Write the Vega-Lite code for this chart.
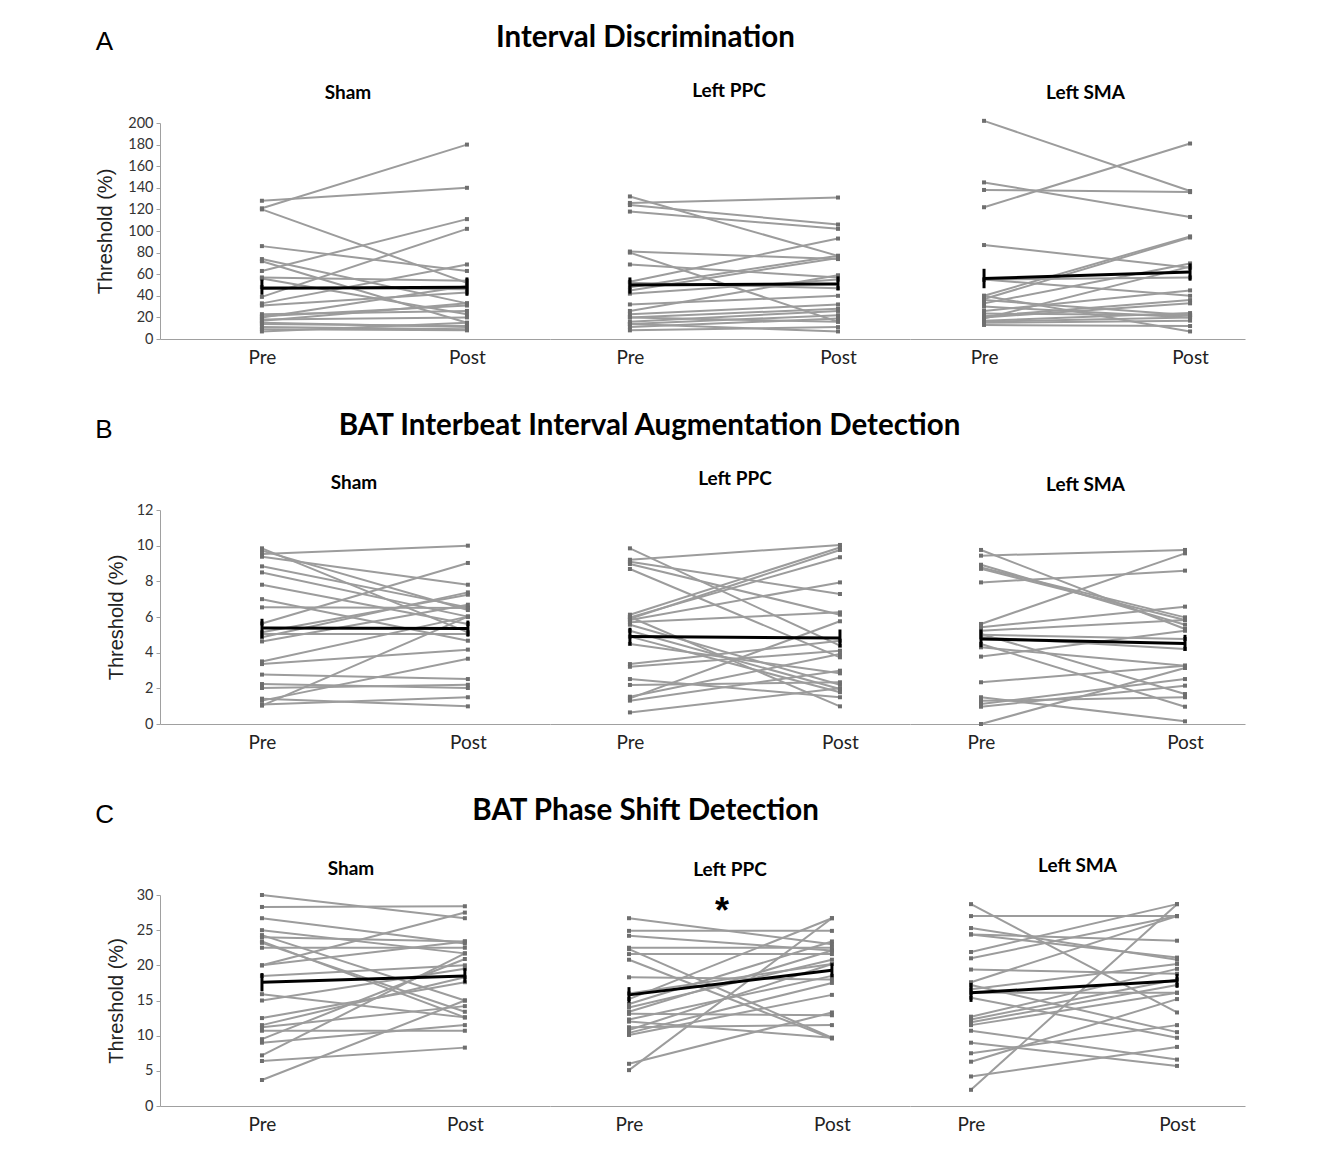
{
"$schema": "https://vega.github.io/schema/vega-lite/v6.json",
"background": "white",
"padding": {"left": 95, "top": 22, "right": 5, "bottom": 5},
"data": {"name": "d"},
"datasets": {"d": [
{"t":"A","c":"Sham","s":1,"Pre":128,"Post":140},{"t":"A","c":"Sham","s":2,"Pre":121,"Post":180},{"t":"A","c":"Sham","s":3,"Pre":120,"Post":52},{"t":"A","c":"Sham","s":4,"Pre":86,"Post":63},{"t":"A","c":"Sham","s":5,"Pre":74,"Post":33},{"t":"A","c":"Sham","s":6,"Pre":72,"Post":15},{"t":"A","c":"Sham","s":7,"Pre":63,"Post":111},{"t":"A","c":"Sham","s":8,"Pre":57,"Post":54},{"t":"A","c":"Sham","s":9,"Pre":56,"Post":23},{"t":"A","c":"Sham","s":10,"Pre":48,"Post":46},{"t":"A","c":"Sham","s":11,"Pre":39,"Post":102},{"t":"A","c":"Sham","s":12,"Pre":33,"Post":69},{"t":"A","c":"Sham","s":13,"Pre":31,"Post":43},{"t":"A","c":"Sham","s":14,"Pre":23,"Post":26},{"t":"A","c":"Sham","s":15,"Pre":21,"Post":31},{"t":"A","c":"Sham","s":16,"Pre":20,"Post":49},{"t":"A","c":"Sham","s":17,"Pre":18,"Post":20},{"t":"A","c":"Sham","s":18,"Pre":17,"Post":33},{"t":"A","c":"Sham","s":19,"Pre":15,"Post":11},{"t":"A","c":"Sham","s":20,"Pre":14,"Post":12},{"t":"A","c":"Sham","s":21,"Pre":11,"Post":9},{"t":"A","c":"Sham","s":22,"Pre":9,"Post":8},{"t":"A","c":"Sham","s":23,"Pre":7,"Post":15},
{"t":"A","c":"Sham","k":"m","p":"Pre","v":47,"lo":41,"hi":55},{"t":"A","c":"Sham","k":"m","p":"Post","v":48,"lo":40,"hi":57},
{"t":"A","c":"Left PPC","s":1,"Pre":132,"Post":77},{"t":"A","c":"Left PPC","s":2,"Pre":126,"Post":131},{"t":"A","c":"Left PPC","s":3,"Pre":124,"Post":106},{"t":"A","c":"Left PPC","s":4,"Pre":118,"Post":102},{"t":"A","c":"Left PPC","s":5,"Pre":81,"Post":74},{"t":"A","c":"Left PPC","s":6,"Pre":80,"Post":16},{"t":"A","c":"Left PPC","s":7,"Pre":69,"Post":57},{"t":"A","c":"Left PPC","s":8,"Pre":53,"Post":93},{"t":"A","c":"Left PPC","s":9,"Pre":48,"Post":77},{"t":"A","c":"Left PPC","s":10,"Pre":45,"Post":75},{"t":"A","c":"Left PPC","s":11,"Pre":42,"Post":55},{"t":"A","c":"Left PPC","s":12,"Pre":32,"Post":40},{"t":"A","c":"Left PPC","s":13,"Pre":26,"Post":59},{"t":"A","c":"Left PPC","s":14,"Pre":23,"Post":32},{"t":"A","c":"Left PPC","s":15,"Pre":20,"Post":28},{"t":"A","c":"Left PPC","s":16,"Pre":16,"Post":26},{"t":"A","c":"Left PPC","s":17,"Pre":14,"Post":22},{"t":"A","c":"Left PPC","s":18,"Pre":11,"Post":19},{"t":"A","c":"Left PPC","s":19,"Pre":8,"Post":11},{"t":"A","c":"Left PPC","s":20,"Pre":14,"Post":7},{"t":"A","c":"Left PPC","s":21,"Pre":20,"Post":16},{"t":"A","c":"Left PPC","s":22,"Pre":52,"Post":47},
{"t":"A","c":"Left PPC","k":"m","p":"Pre","v":50,"lo":42,"hi":57},{"t":"A","c":"Left PPC","k":"m","p":"Post","v":51,"lo":45,"hi":58},
{"t":"A","c":"Left SMA","s":1,"Pre":202,"Post":137},{"t":"A","c":"Left SMA","s":2,"Pre":145,"Post":113},{"t":"A","c":"Left SMA","s":3,"Pre":138,"Post":136},{"t":"A","c":"Left SMA","s":4,"Pre":122,"Post":181},{"t":"A","c":"Left SMA","s":5,"Pre":87,"Post":66},{"t":"A","c":"Left SMA","s":6,"Pre":55,"Post":57},{"t":"A","c":"Left SMA","s":7,"Pre":40,"Post":95},{"t":"A","c":"Left SMA","s":8,"Pre":37,"Post":94},{"t":"A","c":"Left SMA","s":9,"Pre":33,"Post":70},{"t":"A","c":"Left SMA","s":10,"Pre":30,"Post":20},{"t":"A","c":"Left SMA","s":11,"Pre":26,"Post":45},{"t":"A","c":"Left SMA","s":12,"Pre":23.5,"Post":22},{"t":"A","c":"Left SMA","s":13,"Pre":21,"Post":36},{"t":"A","c":"Left SMA","s":14,"Pre":20,"Post":33},{"t":"A","c":"Left SMA","s":15,"Pre":17,"Post":24},{"t":"A","c":"Left SMA","s":16,"Pre":15,"Post":17},{"t":"A","c":"Left SMA","s":17,"Pre":13,"Post":12},{"t":"A","c":"Left SMA","s":18,"Pre":36,"Post":22},{"t":"A","c":"Left SMA","s":19,"Pre":40,"Post":7},{"t":"A","c":"Left SMA","s":20,"Pre":55,"Post":40},{"t":"A","c":"Left SMA","s":21,"Pre":19,"Post":67},{"t":"A","c":"Left SMA","s":22,"Pre":16,"Post":20},
{"t":"A","c":"Left SMA","k":"m","p":"Pre","v":56,"lo":47,"hi":65},{"t":"A","c":"Left SMA","k":"m","p":"Post","v":62,"lo":54,"hi":70},
{"t":"B","c":"Sham","s":1,"Pre":9.85,"Post":5.14},{"t":"B","c":"Sham","s":2,"Pre":9.72,"Post":6.39},{"t":"B","c":"Sham","s":3,"Pre":9.53,"Post":10.0},{"t":"B","c":"Sham","s":4,"Pre":9.38,"Post":7.81},{"t":"B","c":"Sham","s":5,"Pre":8.84,"Post":6.54},{"t":"B","c":"Sham","s":6,"Pre":8.5,"Post":6.02},{"t":"B","c":"Sham","s":7,"Pre":7.81,"Post":5.61},{"t":"B","c":"Sham","s":8,"Pre":7.0,"Post":4.67},{"t":"B","c":"Sham","s":9,"Pre":6.54,"Post":6.5},{"t":"B","c":"Sham","s":10,"Pre":5.64,"Post":9.03},{"t":"B","c":"Sham","s":11,"Pre":5.14,"Post":7.25},{"t":"B","c":"Sham","s":12,"Pre":5.05,"Post":5.05},{"t":"B","c":"Sham","s":13,"Pre":4.86,"Post":7.38},{"t":"B","c":"Sham","s":14,"Pre":4.63,"Post":6.69},{"t":"B","c":"Sham","s":15,"Pre":3.51,"Post":6.02},{"t":"B","c":"Sham","s":16,"Pre":3.36,"Post":4.17},{"t":"B","c":"Sham","s":17,"Pre":2.77,"Post":2.52},{"t":"B","c":"Sham","s":18,"Pre":2.24,"Post":2.02},{"t":"B","c":"Sham","s":19,"Pre":2.02,"Post":2.2},{"t":"B","c":"Sham","s":20,"Pre":1.42,"Post":0.99},{"t":"B","c":"Sham","s":21,"Pre":1.31,"Post":3.66},{"t":"B","c":"Sham","s":22,"Pre":1.03,"Post":6.02},{"t":"B","c":"Sham","s":23,"Pre":1.1,"Post":1.5},
{"t":"B","c":"Sham","k":"m","p":"Pre","v":5.38,"lo":4.8,"hi":5.9},{"t":"B","c":"Sham","k":"m","p":"Post","v":5.36,"lo":4.9,"hi":5.8},
{"t":"B","c":"Left PPC","s":1,"Pre":9.85,"Post":4.39},{"t":"B","c":"Left PPC","s":2,"Pre":9.21,"Post":10.04},{"t":"B","c":"Left PPC","s":3,"Pre":9.1,"Post":7.29},{"t":"B","c":"Left PPC","s":4,"Pre":8.97,"Post":6.13},{"t":"B","c":"Left PPC","s":5,"Pre":8.69,"Post":3.74},{"t":"B","c":"Left PPC","s":6,"Pre":6.13,"Post":9.9},{"t":"B","c":"Left PPC","s":7,"Pre":5.98,"Post":9.35},{"t":"B","c":"Left PPC","s":8,"Pre":5.83,"Post":7.94},{"t":"B","c":"Left PPC","s":9,"Pre":5.7,"Post":6.26},{"t":"B","c":"Left PPC","s":10,"Pre":5.57,"Post":2.2},{"t":"B","c":"Left PPC","s":11,"Pre":5.23,"Post":1.96},{"t":"B","c":"Left PPC","s":12,"Pre":4.9,"Post":1.78},{"t":"B","c":"Left PPC","s":13,"Pre":4.49,"Post":2.84},{"t":"B","c":"Left PPC","s":14,"Pre":3.36,"Post":4.67},{"t":"B","c":"Left PPC","s":15,"Pre":3.21,"Post":4.11},{"t":"B","c":"Left PPC","s":16,"Pre":2.52,"Post":1.5},{"t":"B","c":"Left PPC","s":17,"Pre":2.19,"Post":2.34},{"t":"B","c":"Left PPC","s":18,"Pre":1.53,"Post":3.92},{"t":"B","c":"Left PPC","s":19,"Pre":1.44,"Post":5.76},{"t":"B","c":"Left PPC","s":20,"Pre":1.31,"Post":2.99},{"t":"B","c":"Left PPC","s":21,"Pre":0.65,"Post":2.0},{"t":"B","c":"Left PPC","s":22,"Pre":6.0,"Post":0.99},{"t":"B","c":"Left PPC","s":23,"Pre":5.9,"Post":9.76},
{"t":"B","c":"Left PPC","k":"m","p":"Pre","v":4.9,"lo":4.4,"hi":5.4},{"t":"B","c":"Left PPC","k":"m","p":"Post","v":4.82,"lo":4.3,"hi":5.3},
{"t":"B","c":"Left SMA","s":1,"Pre":9.76,"Post":5.33},{"t":"B","c":"Left SMA","s":2,"Pre":9.44,"Post":9.76},{"t":"B","c":"Left SMA","s":3,"Pre":8.93,"Post":5.57},{"t":"B","c":"Left SMA","s":4,"Pre":8.78,"Post":5.98},{"t":"B","c":"Left SMA","s":5,"Pre":8.7,"Post":5.83},{"t":"B","c":"Left SMA","s":6,"Pre":7.94,"Post":8.6},{"t":"B","c":"Left SMA","s":7,"Pre":5.61,"Post":9.57},{"t":"B","c":"Left SMA","s":8,"Pre":5.42,"Post":6.58},{"t":"B","c":"Left SMA","s":9,"Pre":5.23,"Post":5.83},{"t":"B","c":"Left SMA","s":10,"Pre":5.05,"Post":1.68},{"t":"B","c":"Left SMA","s":11,"Pre":4.86,"Post":4.21},{"t":"B","c":"Left SMA","s":12,"Pre":4.49,"Post":0.97},{"t":"B","c":"Left SMA","s":13,"Pre":4.3,"Post":3.27},{"t":"B","c":"Left SMA","s":14,"Pre":3.78,"Post":5.23},{"t":"B","c":"Left SMA","s":15,"Pre":2.34,"Post":3.27},{"t":"B","c":"Left SMA","s":16,"Pre":1.5,"Post":0.15},{"t":"B","c":"Left SMA","s":17,"Pre":1.12,"Post":2.52},{"t":"B","c":"Left SMA","s":18,"Pre":0.97,"Post":2.15},{"t":"B","c":"Left SMA","s":19,"Pre":1.3,"Post":1.5},{"t":"B","c":"Left SMA","s":20,"Pre":0,"Post":3.14},{"t":"B","c":"Left SMA","s":21,"Pre":5.0,"Post":4.77},
{"t":"B","c":"Left SMA","k":"m","p":"Pre","v":4.77,"lo":4.3,"hi":5.3},{"t":"B","c":"Left SMA","k":"m","p":"Post","v":4.52,"lo":4.1,"hi":5.0},
{"t":"C","c":"Sham","s":1,"Pre":30,"Post":26.7},{"t":"C","c":"Sham","s":2,"Pre":28.3,"Post":28.4},{"t":"C","c":"Sham","s":3,"Pre":26.7,"Post":23.1},{"t":"C","c":"Sham","s":4,"Pre":25.0,"Post":21.7},{"t":"C","c":"Sham","s":5,"Pre":24.3,"Post":15.0},{"t":"C","c":"Sham","s":6,"Pre":23.4,"Post":12.6},{"t":"C","c":"Sham","s":7,"Pre":23.2,"Post":13.4},{"t":"C","c":"Sham","s":8,"Pre":22.5,"Post":22.5},{"t":"C","c":"Sham","s":9,"Pre":20.0,"Post":27.5},{"t":"C","c":"Sham","s":10,"Pre":20.0,"Post":23.4},{"t":"C","c":"Sham","s":11,"Pre":18.5,"Post":20.0},{"t":"C","c":"Sham","s":12,"Pre":15.9,"Post":12.6},{"t":"C","c":"Sham","s":13,"Pre":15.0,"Post":19.5},{"t":"C","c":"Sham","s":14,"Pre":12.5,"Post":17.6},{"t":"C","c":"Sham","s":15,"Pre":11.5,"Post":18.3},{"t":"C","c":"Sham","s":16,"Pre":11.2,"Post":14.2},{"t":"C","c":"Sham","s":17,"Pre":10.7,"Post":10.7},{"t":"C","c":"Sham","s":18,"Pre":9.5,"Post":20.9},{"t":"C","c":"Sham","s":19,"Pre":9.0,"Post":11.5},{"t":"C","c":"Sham","s":20,"Pre":7.2,"Post":21.7},{"t":"C","c":"Sham","s":21,"Pre":6.4,"Post":8.3},{"t":"C","c":"Sham","s":22,"Pre":3.7,"Post":15.0},{"t":"C","c":"Sham","s":23,"Pre":24.0,"Post":23.4},
{"t":"C","c":"Sham","k":"m","p":"Pre","v":17.6,"lo":16.3,"hi":18.9},{"t":"C","c":"Sham","k":"m","p":"Post","v":18.5,"lo":17.5,"hi":19.6},
{"t":"C","c":"Left PPC","s":1,"Pre":26.7,"Post":23.0},{"t":"C","c":"Left PPC","s":2,"Pre":24.9,"Post":24.9},{"t":"C","c":"Left PPC","s":3,"Pre":24.2,"Post":22.1},{"t":"C","c":"Left PPC","s":4,"Pre":22.5,"Post":22.5},{"t":"C","c":"Left PPC","s":5,"Pre":22.3,"Post":9.7},{"t":"C","c":"Left PPC","s":6,"Pre":21.6,"Post":21.6},{"t":"C","c":"Left PPC","s":7,"Pre":20.8,"Post":9.6},{"t":"C","c":"Left PPC","s":8,"Pre":18.3,"Post":18.0},{"t":"C","c":"Left PPC","s":9,"Pre":15.2,"Post":26.7},{"t":"C","c":"Left PPC","s":10,"Pre":14.5,"Post":23.4},{"t":"C","c":"Left PPC","s":11,"Pre":14.0,"Post":20.8},{"t":"C","c":"Left PPC","s":12,"Pre":13.4,"Post":22.1},{"t":"C","c":"Left PPC","s":13,"Pre":13.1,"Post":12.9},{"t":"C","c":"Left PPC","s":14,"Pre":12.3,"Post":18.5},{"t":"C","c":"Left PPC","s":15,"Pre":11.2,"Post":11.5},{"t":"C","c":"Left PPC","s":16,"Pre":10.8,"Post":20.2},{"t":"C","c":"Left PPC","s":17,"Pre":10.4,"Post":17.5},{"t":"C","c":"Left PPC","s":18,"Pre":10.1,"Post":15.8},{"t":"C","c":"Left PPC","s":19,"Pre":6.0,"Post":13.3},{"t":"C","c":"Left PPC","s":20,"Pre":5.1,"Post":26.7},{"t":"C","c":"Left PPC","s":21,"Pre":16.0,"Post":20.2},{"t":"C","c":"Left PPC","s":22,"Pre":12.0,"Post":9.7},
{"t":"C","c":"Left PPC","k":"m","p":"Pre","v":15.8,"lo":14.7,"hi":16.9},{"t":"C","c":"Left PPC","k":"m","p":"Post","v":19.3,"lo":18.3,"hi":20.3},
{"t":"C","c":"Left PPC","k":"star","lab":"*","v":27.6},
{"t":"C","c":"Left SMA","s":1,"Pre":28.7,"Post":13.3},{"t":"C","c":"Left SMA","s":2,"Pre":27.0,"Post":27.0},{"t":"C","c":"Left SMA","s":3,"Pre":25.3,"Post":20.8},{"t":"C","c":"Left SMA","s":4,"Pre":24.4,"Post":23.5},{"t":"C","c":"Left SMA","s":5,"Pre":21.9,"Post":28.7},{"t":"C","c":"Left SMA","s":6,"Pre":21.0,"Post":27.0},{"t":"C","c":"Left SMA","s":7,"Pre":19.4,"Post":18.8},{"t":"C","c":"Left SMA","s":8,"Pre":17.6,"Post":27.0},{"t":"C","c":"Left SMA","s":9,"Pre":17.2,"Post":10.5},{"t":"C","c":"Left SMA","s":10,"Pre":16.6,"Post":20.2},{"t":"C","c":"Left SMA","s":11,"Pre":16.1,"Post":16.1},{"t":"C","c":"Left SMA","s":12,"Pre":15.4,"Post":9.7},{"t":"C","c":"Left SMA","s":13,"Pre":12.7,"Post":19.5},{"t":"C","c":"Left SMA","s":14,"Pre":12.3,"Post":18.0},{"t":"C","c":"Left SMA","s":15,"Pre":11.9,"Post":17.2},{"t":"C","c":"Left SMA","s":16,"Pre":11.5,"Post":16.1},{"t":"C","c":"Left SMA","s":17,"Pre":10.7,"Post":6.6},{"t":"C","c":"Left SMA","s":18,"Pre":9.0,"Post":5.7},{"t":"C","c":"Left SMA","s":19,"Pre":7.5,"Post":11.5},{"t":"C","c":"Left SMA","s":20,"Pre":6.3,"Post":15.2},{"t":"C","c":"Left SMA","s":21,"Pre":4.2,"Post":8.4},{"t":"C","c":"Left SMA","s":22,"Pre":2.3,"Post":28.7},{"t":"C","c":"Left SMA","s":23,"Pre":24.4,"Post":21.1},
{"t":"C","c":"Left SMA","k":"m","p":"Pre","v":16.1,"lo":14.8,"hi":17.5},{"t":"C","c":"Left SMA","k":"m","p":"Post","v":17.8,"lo":16.8,"hi":18.8}
]},
"spacing": 43,
"vconcat": [
{
 "title": {"text": "A", "anchor": "start", "frame": "bounds", "offset": -32, "dx": 0, "fontSize": 26, "font": "Liberation Sans", "fontWeight": "normal"},
 "vconcat": [{
  "title": {"text": "Interval Discrimination", "frame": "bounds", "fontSize": 29.5, "anchor": "middle", "offset": 29, "dx": -25},
  "spacing": 0,
  "hconcat": [
   {"width": 390, "height": 216, "title": {"text": "Sham", "dx": -7, "offset": 12},
    "transform": [{"filter": "datum.t == 'A' && datum.c == 'Sham'"}],
    "encoding": {
     "x": {"field": "p", "type": "nominal", "sort": ["Pre", "Post"], "title": null, "scale": {"type": "point", "padding": 0.451, "align": 0.551}},
     "y": {"field": "v", "type": "quantitative", "title": "Threshold (%)", "scale": {"domain": [0, 200], "nice": false}, "axis": {"values": [0, 20, 40, 60, 80, 100, 120, 140, 160, 180, 200], "titlePadding": 12}}},
    "layer": [
     {"transform": [{"filter": "isValid(datum.s)"}, {"fold": ["Pre", "Post"], "as": ["p", "v"]}], "mark": {"type": "line", "color": "#9c9c9c", "strokeWidth": 2}, "encoding": {"detail": {"field": "s"}}},
     {"transform": [{"filter": "isValid(datum.s)"}, {"fold": ["Pre", "Post"], "as": ["p", "v"]}], "mark": {"type": "point", "shape": "square", "filled": true, "size": 16, "color": "#6e6e6e", "opacity": 1}},
     {"transform": [{"filter": "datum.k == 'm'"}], "mark": {"type": "line", "color": "black", "strokeWidth": 3}},
     {"transform": [{"filter": "datum.k == 'm'"}], "mark": {"type": "rule", "color": "black", "strokeWidth": 3},
      "encoding": {"y": {"field": "lo", "type": "quantitative", "title": "Threshold (%)", "axis": {"values": [0, 20, 40, 60, 80, 100, 120, 140, 160, 180, 200], "titlePadding": 12}}, "y2": {"field": "hi"}}}
    ]},
   {"width": 360, "height": 216, "title": {"text": "Left PPC", "dx": -1, "offset": 22},
    "transform": [{"filter": "datum.t == 'A' && datum.c == 'Left PPC'"}],
    "encoding": {
     "x": {"field": "p", "type": "nominal", "sort": ["Pre", "Post"], "title": null, "scale": {"type": "point", "padding": 0.365, "align": 0.526}},
     "y": {"field": "v", "type": "quantitative", "scale": {"domain": [0, 200], "nice": false}, "axis": null}},
    "layer": [
     {"transform": [{"filter": "isValid(datum.s)"}, {"fold": ["Pre", "Post"], "as": ["p", "v"]}], "mark": {"type": "line", "color": "#9c9c9c", "strokeWidth": 2}, "encoding": {"detail": {"field": "s"}}},
     {"transform": [{"filter": "isValid(datum.s)"}, {"fold": ["Pre", "Post"], "as": ["p", "v"]}], "mark": {"type": "point", "shape": "square", "filled": true, "size": 16, "color": "#6e6e6e", "opacity": 1}},
     {"transform": [{"filter": "datum.k == 'm'"}], "mark": {"type": "line", "color": "black", "strokeWidth": 3}},
     {"transform": [{"filter": "datum.k == 'm'"}], "mark": {"type": "rule", "color": "black", "strokeWidth": 3},
      "encoding": {"y": {"field": "lo", "type": "quantitative", "axis": null}, "y2": {"field": "hi"}}}
    ]},
   {"width": 335, "height": 216, "title": {"text": "Left SMA", "dx": 8, "offset": 14},
    "transform": [{"filter": "datum.t == 'A' && datum.c == 'Left SMA'"}],
    "encoding": {
     "x": {"field": "p", "type": "nominal", "sort": ["Pre", "Post"], "title": null, "scale": {"type": "point", "padding": 0.313, "align": 0.574}},
     "y": {"field": "v", "type": "quantitative", "scale": {"domain": [0, 200], "nice": false}, "axis": null}},
    "layer": [
     {"transform": [{"filter": "isValid(datum.s)"}, {"fold": ["Pre", "Post"], "as": ["p", "v"]}], "mark": {"type": "line", "color": "#9c9c9c", "strokeWidth": 2}, "encoding": {"detail": {"field": "s"}}},
     {"transform": [{"filter": "isValid(datum.s)"}, {"fold": ["Pre", "Post"], "as": ["p", "v"]}], "mark": {"type": "point", "shape": "square", "filled": true, "size": 16, "color": "#6e6e6e", "opacity": 1}},
     {"transform": [{"filter": "datum.k == 'm'"}], "mark": {"type": "line", "color": "black", "strokeWidth": 3}},
     {"transform": [{"filter": "datum.k == 'm'"}], "mark": {"type": "rule", "color": "black", "strokeWidth": 3},
      "encoding": {"y": {"field": "lo", "type": "quantitative", "axis": null}, "y2": {"field": "hi"}}}
    ]}
  ]
 }]
},
{
 "title": {"text": "B", "anchor": "start", "frame": "bounds", "offset": -32, "dx": -11, "fontSize": 26, "font": "Liberation Sans", "fontWeight": "normal"},
 "vconcat": [{
  "title": {"text": "BAT Interbeat Interval Augmentation Detection", "frame": "bounds", "fontSize": 29.5, "anchor": "middle", "offset": 29, "dx": -26},
  "spacing": 0,
  "hconcat": [
   {"width": 390, "height": 214, "title": {"text": "Sham", "dx": -1, "offset": 9},
    "transform": [{"filter": "datum.t == 'B' && datum.c == 'Sham'"}],
    "encoding": {
     "x": {"field": "p", "type": "nominal", "sort": ["Pre", "Post"], "title": null, "scale": {"type": "point", "padding": 0.447, "align": 0.554}},
     "y": {"field": "v", "type": "quantitative", "title": "Threshold (%)", "scale": {"domain": [0, 12], "nice": false}, "axis": {"values": [0, 2, 4, 6, 8, 10, 12]}}},
    "layer": [
     {"transform": [{"filter": "isValid(datum.s)"}, {"fold": ["Pre", "Post"], "as": ["p", "v"]}], "mark": {"type": "line", "color": "#9c9c9c", "strokeWidth": 2}, "encoding": {"detail": {"field": "s"}}},
     {"transform": [{"filter": "isValid(datum.s)"}, {"fold": ["Pre", "Post"], "as": ["p", "v"]}], "mark": {"type": "point", "shape": "square", "filled": true, "size": 16, "color": "#6e6e6e", "opacity": 1}},
     {"transform": [{"filter": "datum.k == 'm'"}], "mark": {"type": "line", "color": "black", "strokeWidth": 3}},
     {"transform": [{"filter": "datum.k == 'm'"}], "mark": {"type": "rule", "color": "black", "strokeWidth": 3},
      "encoding": {"y": {"field": "lo", "type": "quantitative", "title": "Threshold (%)", "axis": {"values": [0, 2, 4, 6, 8, 10, 12]}}, "y2": {"field": "hi"}}}
    ]},
   {"width": 360, "height": 214, "title": {"text": "Left PPC", "dx": 5, "offset": 21},
    "transform": [{"filter": "datum.t == 'B' && datum.c == 'Left PPC'"}],
    "encoding": {
     "x": {"field": "p", "type": "nominal", "sort": ["Pre", "Post"], "title": null, "scale": {"type": "point", "padding": 0.357, "align": 0.533}},
     "y": {"field": "v", "type": "quantitative", "scale": {"domain": [0, 12], "nice": false}, "axis": null}},
    "layer": [
     {"transform": [{"filter": "isValid(datum.s)"}, {"fold": ["Pre", "Post"], "as": ["p", "v"]}], "mark": {"type": "line", "color": "#9c9c9c", "strokeWidth": 2}, "encoding": {"detail": {"field": "s"}}},
     {"transform": [{"filter": "isValid(datum.s)"}, {"fold": ["Pre", "Post"], "as": ["p", "v"]}], "mark": {"type": "point", "shape": "square", "filled": true, "size": 16, "color": "#6e6e6e", "opacity": 1}},
     {"transform": [{"filter": "datum.k == 'm'"}], "mark": {"type": "line", "color": "black", "strokeWidth": 3}},
     {"transform": [{"filter": "datum.k == 'm'"}], "mark": {"type": "rule", "color": "black", "strokeWidth": 3},
      "encoding": {"y": {"field": "lo", "type": "quantitative", "axis": null}, "y2": {"field": "hi"}}}
    ]},
   {"width": 335, "height": 214, "title": {"text": "Left SMA", "dx": 8, "offset": 15},
    "transform": [{"filter": "datum.t == 'B' && datum.c == 'Left SMA'"}],
    "encoding": {
     "x": {"field": "p", "type": "nominal", "sort": ["Pre", "Post"], "title": null, "scale": {"type": "point", "padding": 0.321, "align": 0.542}},
     "y": {"field": "v", "type": "quantitative", "scale": {"domain": [0, 12], "nice": false}, "axis": null}},
    "layer": [
     {"transform": [{"filter": "isValid(datum.s)"}, {"fold": ["Pre", "Post"], "as": ["p", "v"]}], "mark": {"type": "line", "color": "#9c9c9c", "strokeWidth": 2}, "encoding": {"detail": {"field": "s"}}},
     {"transform": [{"filter": "isValid(datum.s)"}, {"fold": ["Pre", "Post"], "as": ["p", "v"]}], "mark": {"type": "point", "shape": "square", "filled": true, "size": 16, "color": "#6e6e6e", "opacity": 1}},
     {"transform": [{"filter": "datum.k == 'm'"}], "mark": {"type": "line", "color": "black", "strokeWidth": 3}},
     {"transform": [{"filter": "datum.k == 'm'"}], "mark": {"type": "rule", "color": "black", "strokeWidth": 3},
      "encoding": {"y": {"field": "lo", "type": "quantitative", "axis": null}, "y2": {"field": "hi"}}}
    ]}
  ]
 }]
},
{
 "title": {"text": "C", "anchor": "start", "frame": "bounds", "offset": -32, "dx": -11, "fontSize": 26, "font": "Liberation Sans", "fontWeight": "normal"},
 "vconcat": [{
  "title": {"text": "BAT Phase Shift Detection", "frame": "bounds", "fontSize": 29.5, "anchor": "middle", "offset": 31, "dx": -30},
  "spacing": 0,
  "hconcat": [
   {"width": 390, "height": 211, "title": {"text": "Sham", "dx": -4, "offset": 8},
    "transform": [{"filter": "datum.t == 'C' && datum.c == 'Sham'"}],
    "encoding": {
     "x": {"field": "p", "type": "nominal", "sort": ["Pre", "Post"], "title": null, "scale": {"type": "point", "padding": 0.461, "align": 0.545}},
     "y": {"field": "v", "type": "quantitative", "title": "Threshold (%)", "scale": {"domain": [0, 30], "nice": false}, "axis": {"values": [0, 5, 10, 15, 20, 25, 30]}}},
    "layer": [
     {"transform": [{"filter": "isValid(datum.s)"}, {"fold": ["Pre", "Post"], "as": ["p", "v"]}], "mark": {"type": "line", "color": "#9c9c9c", "strokeWidth": 2}, "encoding": {"detail": {"field": "s"}}},
     {"transform": [{"filter": "isValid(datum.s)"}, {"fold": ["Pre", "Post"], "as": ["p", "v"]}], "mark": {"type": "point", "shape": "square", "filled": true, "size": 16, "color": "#6e6e6e", "opacity": 1}},
     {"transform": [{"filter": "datum.k == 'm'"}], "mark": {"type": "line", "color": "black", "strokeWidth": 3}},
     {"transform": [{"filter": "datum.k == 'm'"}], "mark": {"type": "rule", "color": "black", "strokeWidth": 3},
      "encoding": {"y": {"field": "lo", "type": "quantitative", "title": "Threshold (%)", "axis": {"values": [0, 5, 10, 15, 20, 25, 30]}}, "y2": {"field": "hi"}}}
    ]},
   {"width": 360, "height": 211, "title": {"text": "Left PPC", "dx": 0, "offset": 14},
    "transform": [{"filter": "datum.t == 'C' && datum.c == 'Left PPC'"}],
    "encoding": {
     "y": {"field": "v", "type": "quantitative", "scale": {"domain": [0, 30], "nice": false}, "axis": null}},
    "layer": [
     {"transform": [{"filter": "isValid(datum.s)"}, {"fold": ["Pre", "Post"], "as": ["p", "v"]}], "mark": {"type": "line", "color": "#9c9c9c", "strokeWidth": 2},
      "encoding": {"x": {"field": "p", "type": "nominal", "sort": ["Pre", "Post"], "title": null, "scale": {"type": "point", "padding": 0.387, "align": 0.503}}, "detail": {"field": "s"}}},
     {"transform": [{"filter": "isValid(datum.s)"}, {"fold": ["Pre", "Post"], "as": ["p", "v"]}], "mark": {"type": "point", "shape": "square", "filled": true, "size": 16, "color": "#6e6e6e", "opacity": 1},
      "encoding": {"x": {"field": "p", "type": "nominal", "sort": ["Pre", "Post"], "title": null}}},
     {"transform": [{"filter": "datum.k == 'm'"}], "mark": {"type": "line", "color": "black", "strokeWidth": 3},
      "encoding": {"x": {"field": "p", "type": "nominal", "sort": ["Pre", "Post"], "title": null}}},
     {"transform": [{"filter": "datum.k == 'm'"}], "mark": {"type": "rule", "color": "black", "strokeWidth": 3},
      "encoding": {"x": {"field": "p", "type": "nominal", "sort": ["Pre", "Post"], "title": null}, "y": {"field": "lo", "type": "quantitative", "axis": null}, "y2": {"field": "hi"}}},
     {"transform": [{"filter": "datum.k == 'star'"}], "mark": {"type": "text", "fontSize": 36, "fontWeight": "bold", "font": "Liberation Sans", "dx": -8, "baseline": "middle", "color": "black"},
      "encoding": {"text": {"field": "lab"}}}
    ]},
   {"width": 335, "height": 211, "title": {"text": "Left SMA", "dx": 0, "offset": 19},
    "transform": [{"filter": "datum.t == 'C' && datum.c == 'Left SMA'"}],
    "encoding": {
     "x": {"field": "p", "type": "nominal", "sort": ["Pre", "Post"], "title": null, "scale": {"type": "point", "padding": 0.313, "align": 0.473}},
     "y": {"field": "v", "type": "quantitative", "scale": {"domain": [0, 30], "nice": false}, "axis": null}},
    "layer": [
     {"transform": [{"filter": "isValid(datum.s)"}, {"fold": ["Pre", "Post"], "as": ["p", "v"]}], "mark": {"type": "line", "color": "#9c9c9c", "strokeWidth": 2}, "encoding": {"detail": {"field": "s"}}},
     {"transform": [{"filter": "isValid(datum.s)"}, {"fold": ["Pre", "Post"], "as": ["p", "v"]}], "mark": {"type": "point", "shape": "square", "filled": true, "size": 16, "color": "#6e6e6e", "opacity": 1}},
     {"transform": [{"filter": "datum.k == 'm'"}], "mark": {"type": "line", "color": "black", "strokeWidth": 3}},
     {"transform": [{"filter": "datum.k == 'm'"}], "mark": {"type": "rule", "color": "black", "strokeWidth": 3},
      "encoding": {"y": {"field": "lo", "type": "quantitative", "axis": null}, "y2": {"field": "hi"}}}
    ]}
  ]
 }]
}
],
"config": {
 "view": {"stroke": null},
 "title": {"font": "Lato", "fontSize": 19, "fontWeight": "bold", "color": "black", "offset": 14, "frame": "group", "anchor": "middle"},
 "axis": {"grid": false},
 "axisX": {"labelAngle": 0, "ticks": false, "labelFont": "Lato", "labelFontSize": 19, "labelPadding": 9, "labelColor": "#222", "domainColor": "#a0a0a0", "domainWidth": 1.2},
 "axisY": {"labelOverlap": false, "labelFont": "Lato", "labelFontSize": 14.5, "labelColor": "#333", "labelPadding": 3, "tickColor": "#a0a0a0", "tickSize": 4, "domainColor": "#a0a0a0", "titleFont": "Liberation Sans", "titleFontSize": 20, "titleFontWeight": "normal", "titleColor": "#222", "titlePadding": 10}
}
}
